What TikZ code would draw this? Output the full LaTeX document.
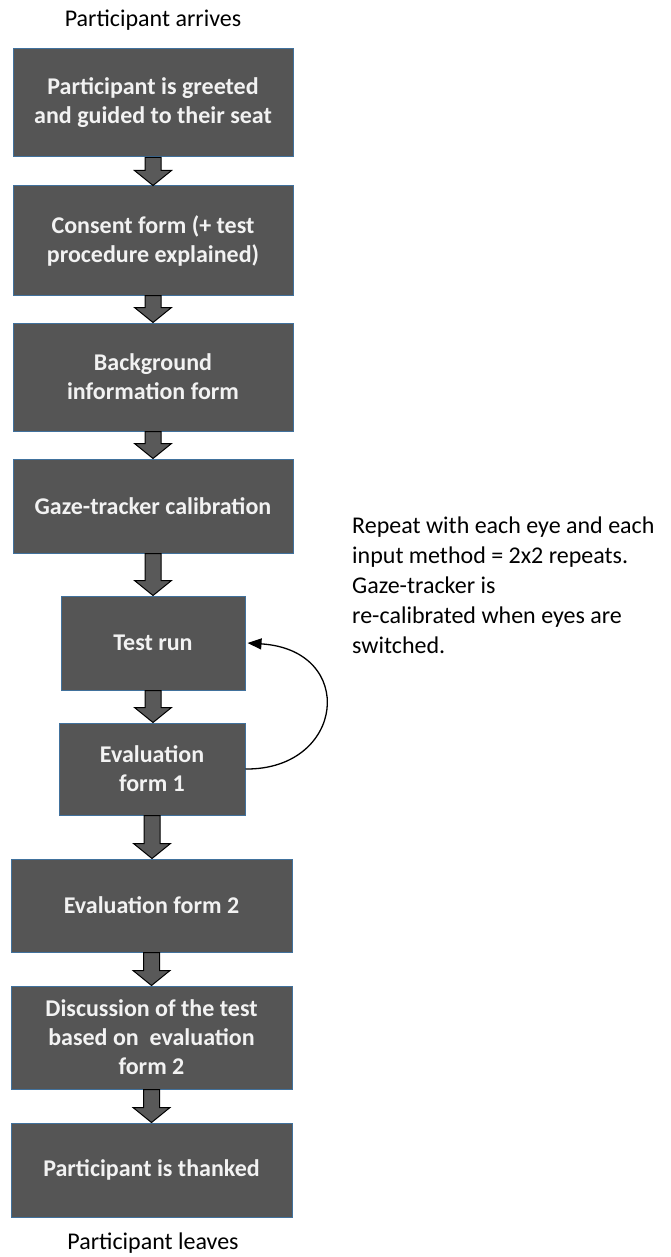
\documentclass[tikz,border=0pt]{standalone}
\usepackage{fontspec}
\setmainfont{Carlito}
\usetikzlibrary{calc,arrows.meta}
\definecolor{boxgray}{HTML}{555555}
\definecolor{boxedge}{HTML}{41719C}
\definecolor{boxtext}{HTML}{F2F2F2}
\definecolor{arrowgray}{HTML}{595959}
\tikzset{
  stepbox/.style={draw=boxedge, line width=1pt, fill=boxgray, text=boxtext,
    font=\bfseries\fontsize{24}{29}\selectfont, align=center, inner sep=0pt},
  plain/.style={font=\fontsize{24}{30}\selectfont, inner sep=0pt},
  blk/.style={draw=black, line width=1pt, fill=arrowgray, line join=miter},
  loop/.style={draw=black, line width=1.3pt, -{Triangle[length=14pt,width=11pt]}}
}
\newcommand{\blkarrow}[2]{%
  \path[blk] let \p1=(#1.south), \p2=(#2.north) in
    (\x1-8pt,\y1) -- (\x1-8pt,\y2+15pt) -- (\x1-18.5pt,\y2+15pt) -- (\x1,\y2)
    -- (\x1+18.5pt,\y2+15pt) -- (\x1+8pt,\y2+15pt) -- (\x1+8pt,\y1) -- cycle;}
\begin{document}
\begin{tikzpicture}[x=1pt,y=-1pt]
\useasboundingbox (0,0) rectangle (670,1257);
\node[plain] (arr) at (153,20) {Participant arrives};
\node[stepbox, minimum width=280pt, minimum height=108pt] (b1) at (153,103) {Participant is greeted\\and guided to their seat};
\node[stepbox, minimum width=280pt, minimum height=109pt] (b2) at (153,240.5) {Consent form (+ test\\procedure explained)};
\node[stepbox, minimum width=280pt, minimum height=108pt] (b3) at (153,377) {Background\\information form};
\node[stepbox, minimum width=280pt, minimum height=94pt] (b4) at (153,506) {Gaze-tracker calibration};
\node[stepbox, minimum width=184pt, minimum height=94pt] (b5) at (153,643) {Test run};
\node[stepbox, minimum width=186pt, minimum height=92pt] (b6) at (152,769) {Evaluation\\form 1};
\node[stepbox, minimum width=281pt, minimum height=93pt] (b7) at (151.5,905.5) {Evaluation form 2};
\node[stepbox, minimum width=281pt, minimum height=103pt] (b8) at (151.5,1037.5) {Discussion of the test\\based on~ evaluation\\form 2};
\node[stepbox, minimum width=281pt, minimum height=94pt] (b9) at (151.5,1170) {Participant is thanked};
\node[plain] (lv) at (153,1243) {Participant leaves};
\blkarrow{b1}{b2}
\blkarrow{b2}{b3}
\blkarrow{b3}{b4}
\blkarrow{b4}{b5}
\blkarrow{b5}{b6}
\blkarrow{b6}{b7}
\blkarrow{b7}{b8}
\blkarrow{b8}{b9}
\draw[loop] (b6.east) .. controls (345,770) and (358,650) .. ($(b5.east)+(2,0)$);
\node[plain, anchor=base west, align=left] (note) at (352,653) {Repeat with each eye and each\\input method = 2x2 repeats.\\Gaze-tracker is\\re-calibrated when eyes are\\switched.};
\end{tikzpicture}
\end{document}
